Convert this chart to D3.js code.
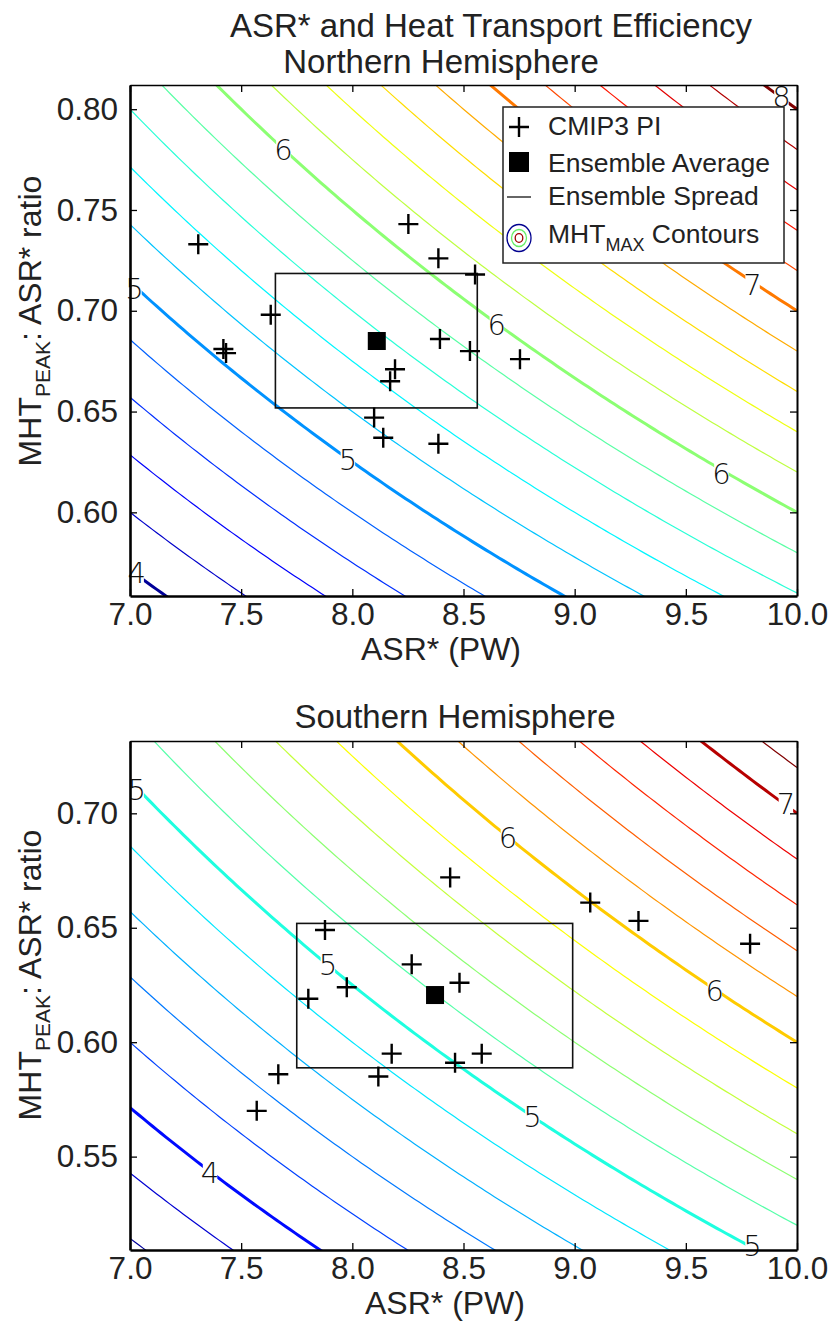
<!DOCTYPE html>
<html>
<head>
<meta charset="utf-8">
<script src="https://cdn.jsdelivr.net/npm/d3@7"></script>
<style>
  body { margin: 0; background: #fff; }
  svg { display: block; font-family: "Liberation Sans", Arial, sans-serif; }
  .tick text { font-size: 31.5px; fill: #222; }
  .clabel { font-family: "DejaVu Sans", sans-serif; font-weight: 200; font-size: 29px; fill: #111; }
</style>
</head>
<body>
<svg id="chart" width="836" height="1326"></svg>
<script>
// x ticks shared by both panels
const xTicks = [7.0, 7.5, 8.0, 8.5, 9.0, 9.5, 10.0];

// Northern Hemisphere
const nhAsr   = [7.307, 7.420, 7.432, 7.633, 8.252, 8.387, 8.552, 8.394, 8.529, 8.754, 8.192, 8.170, 8.098, 8.139, 8.387];
const nhRatio = [0.733, 0.681, 0.679, 0.698, 0.743, 0.726, 0.718, 0.686, 0.680, 0.676, 0.671, 0.665, 0.647, 0.637, 0.634];
const nhMean = [8.11, 0.685];
const nhSpreadX = [7.654, 8.562];
const nhSpreadY = [0.6518, 0.7185];
const nhYTicks = [0.60, 0.65, 0.70, 0.75, 0.80];
const nhLevels = [4.0, 4.2, 4.4, 4.6, 4.8, 5.0, 5.2, 5.4, 5.6, 5.8, 6.0, 6.2, 6.4, 6.6, 6.8, 7.0, 7.2, 7.4, 7.6, 7.8, 8.0];
const nhLabelText = ["6", "5", "4", "5", "6", "6", "7", "8"];
const nhLabelX    = [7.69, 7.98, 7.03, 7.02, 8.65, 9.66, 9.80, 9.93];
const nhLabelY    = [0.780, 0.626, 0.570, 0.711, 0.693, 0.619, 0.713, 0.806];

// Southern Hemisphere
const shAsr   = [7.877, 7.975, 7.802, 8.267, 8.440, 9.070, 9.287, 9.789, 8.482, 7.667, 7.570, 8.117, 8.177, 8.462, 8.582];
const shRatio = [0.649, 0.624, 0.619, 0.634, 0.672, 0.661, 0.653, 0.643, 0.626, 0.586, 0.570, 0.585, 0.595, 0.591, 0.595];
const shMean = [8.372, 0.6206];
const shSpreadX = [7.75, 8.991];
const shSpreadY = [0.5888, 0.6519];
const shYTicks = [0.55, 0.60, 0.65, 0.70];
const shLevels = [3.6, 3.8, 4.0, 4.2, 4.4, 4.6, 4.8, 5.0, 5.2, 5.4, 5.6, 5.8, 6.0, 6.2, 6.4, 6.6, 6.8, 7.0, 7.2];
const shLabelText = ["5", "5", "6", "7", "6", "5", "4", "5"];
const shLabelX    = [7.03, 7.89, 8.70, 9.95, 9.63, 9.80, 7.36, 8.81];
const shLabelY    = [0.710, 0.6336, 0.689, 0.704, 0.6225, 0.511, 0.543, 0.5675];

const svg = d3.select("#chart");

// MATLAB-style jet colormap
function jet(t) {
  const c = v => Math.max(0, Math.min(1, v));
  const r = c(1.5 - Math.abs(4 * t - 3)), g = c(1.5 - Math.abs(4 * t - 2)), b = c(1.5 - Math.abs(4 * t - 1));
  return d3.rgb(r * 255, g * 255, b * 255).toString();
}

function drawPanel(p) {
  const x = d3.scaleLinear().domain([7, 10]).range([130, 797]);
  const y = d3.scaleLinear().domain(p.yDomain).range([p.bottom, p.top]);
  const g = svg.append("g");

  const clipId = "clip" + p.id;
  svg.append("clipPath").attr("id", clipId)
    .append("rect").attr("x", 130).attr("y", p.top).attr("width", 667).attr("height", p.bottom - p.top);

  const col = v => jet((v - p.clim[0]) / (p.clim[1] - p.clim[0]));

  const xs = d3.range(7, 10.0001, 0.02);
  const line = d3.line().x(d => x(d[0])).y(d => y(d[1]));
  const cg = g.append("g").attr("clip-path", `url(#${clipId})`);
  cg.selectAll("path.contour").data(p.levels).join("path")
    .attr("class", "contour")
    .attr("fill", "none")
    .attr("stroke", d => col(d))
    .attr("stroke-width", d => Math.abs(d - Math.round(d)) < 1e-6 ? 3 : 1.2)
    .attr("d", d => line(xs.map(v => [v, d / v])));

  // contour labels with a gap in the line
  const lg = g.append("g");
  p.labelText.forEach((t, i) => {
    const tx = lg.append("text").attr("class", "clabel")
      .attr("x", x(p.labelX[i])).attr("y", y(p.labelY[i]))
      .attr("text-anchor", "middle").attr("dominant-baseline", "central").text(t);
    const bb = tx.node().getBBox();
    lg.insert("rect", "text")
      .attr("x", bb.x + 2).attr("y", bb.y + 5).attr("width", bb.width - 4).attr("height", bb.height - 10)
      .attr("fill", "#fff");
  });

  // ensemble spread box
  g.append("rect")
    .attr("x", x(p.spreadX[0])).attr("y", y(p.spreadY[1]))
    .attr("width", x(p.spreadX[1]) - x(p.spreadX[0]))
    .attr("height", y(p.spreadY[0]) - y(p.spreadY[1]))
    .attr("fill", "none").attr("stroke", "#111").attr("stroke-width", 1.6);

  // CMIP3 models
  const pts = d3.zip(p.asr, p.ratio);
  g.selectAll("path.model").data(pts).join("path")
    .attr("class", "model")
    .attr("d", d => `M${x(d[0]) - 10},${y(d[1])}h20M${x(d[0])},${y(d[1]) - 10}v20`)
    .attr("stroke", "#000").attr("stroke-width", 2.4);

  // ensemble mean
  g.append("rect")
    .attr("x", x(p.mean[0]) - 9).attr("y", y(p.mean[1]) - 9)
    .attr("width", 18).attr("height", 18).attr("fill", "#000");

  // axes (ticks inward, box on)
  const fmt = d3.format(".2f");
  g.append("g").attr("transform", `translate(0,${p.bottom})`)
    .call(d3.axisBottom(x).tickValues(xTicks).tickFormat(d3.format(".1f")).tickSizeInner(-7).tickSizeOuter(0).tickPadding(7))
    .call(a => a.select(".domain").attr("stroke-width", 2.6));
  g.append("g").attr("transform", `translate(0,${p.top})`)
    .call(d3.axisTop(x).tickValues(xTicks).tickFormat("").tickSizeInner(-7).tickSizeOuter(0))
    .call(a => a.select(".domain").attr("stroke-width", 1.6));
  g.append("g").attr("transform", `translate(130,0)`)
    .call(d3.axisLeft(y).tickValues(p.yTicks).tickFormat(fmt).tickSizeInner(-7).tickSizeOuter(0).tickPadding(12))
    .call(a => a.select(".domain").attr("stroke-width", 2.6));
  g.append("g").attr("transform", `translate(797,0)`)
    .call(d3.axisRight(y).tickValues(p.yTicks).tickFormat("").tickSizeInner(-7).tickSizeOuter(0))
    .call(a => a.select(".domain").attr("stroke-width", 2));
  g.selectAll(".tick line").attr("stroke-width", 1.3);
  g.selectAll(".tick text").attr("font-family", "Liberation Sans, Arial, sans-serif");

  // axis labels
  g.append("text").attr("x", p.xLabelX).attr("y", p.bottom + 64)
    .attr("text-anchor", "middle").attr("font-size", 32).attr("fill", "#222").text("ASR* (PW)");
  const yl = g.append("text")
    .attr("transform", `translate(41,${p.yLabelY}) rotate(-90)`)
    .attr("text-anchor", "middle").attr("font-size", 32).attr("fill", "#222");
  yl.append("tspan").text("MHT");
  yl.append("tspan").attr("font-size", 21).attr("dy", 9).text("PEAK");
  yl.append("tspan").attr("dy", -9).text(": ASR* ratio");

  // titles
  p.titles.forEach(t => {
    g.append("text").attr("x", t.x).attr("y", t.y).attr("text-anchor", "middle")
      .attr("font-size", 33).attr("fill", "#222").text(t.text);
  });

  return { x, y, g };
}

drawPanel({
  id: "nh", top: 85, bottom: 596, yDomain: [0.5585, 0.812], yTicks: nhYTicks, clim: [3.9, 8.0],
  levels: nhLevels, labelText: nhLabelText, labelX: nhLabelX, labelY: nhLabelY,
  asr: nhAsr, ratio: nhRatio, mean: nhMean, spreadX: nhSpreadX, spreadY: nhSpreadY,
  xLabelX: 441, yLabelY: 321,
  titles: [{ text: "ASR* and Heat Transport Efficiency", x: 491, y: 37 },
           { text: "Northern Hemisphere", x: 441, y: 73 }]
});

drawPanel({
  id: "sh", top: 741, bottom: 1250, yDomain: [0.5092, 0.7316], yTicks: shYTicks, clim: [3.5, 7.2],
  levels: shLevels, labelText: shLabelText, labelX: shLabelX, labelY: shLabelY,
  asr: shAsr, ratio: shRatio, mean: shMean, spreadX: shSpreadX, spreadY: shSpreadY,
  xLabelX: 445, yLabelY: 975,
  titles: [{ text: "Southern Hemisphere", x: 455, y: 728 }]
});

// legend (NH panel)
const leg = svg.append("g");
leg.append("rect").attr("x", 503).attr("y", 107).attr("width", 281).attr("height", 156)
  .attr("fill", "#fff").attr("stroke", "#222").attr("stroke-width", 1.5);
const lx = 519, tx = 548;
leg.append("path").attr("d", `M${lx - 10},127h20M${lx},117v20`).attr("stroke", "#000").attr("stroke-width", 2.4);
leg.append("rect").attr("x", lx - 10).attr("y", 152).attr("width", 20).attr("height", 20).attr("fill", "#000");
leg.append("line").attr("x1", lx - 12).attr("x2", lx + 12).attr("y1", 197).attr("y2", 197).attr("stroke", "#000").attr("stroke-width", 1.2);
[[12, 13.5, "#00008f"], [7.5, 8.5, "#66ee66"], [3.8, 4.3, "#a00000"]].forEach(c => {
  leg.append("ellipse").attr("cx", lx).attr("cy", 238).attr("rx", c[0]).attr("ry", c[1])
    .attr("fill", "none").attr("stroke", c[2]).attr("stroke-width", 1.3);
});
const legText = [["CMIP3 PI", 135], ["Ensemble Average", 172], ["Ensemble Spread", 205]];
legText.forEach(d => {
  leg.append("text").attr("x", tx).attr("y", d[1]).attr("font-size", 26.5).attr("fill", "#222").text(d[0]);
});
const lt = leg.append("text").attr("x", tx).attr("y", 243).attr("font-size", 26.5).attr("fill", "#222");
lt.append("tspan").text("MHT");
lt.append("tspan").attr("font-size", 18).attr("dy", 8).text("MAX");
lt.append("tspan").attr("dy", -8).text(" Contours");
</script>
</body>
</html>
